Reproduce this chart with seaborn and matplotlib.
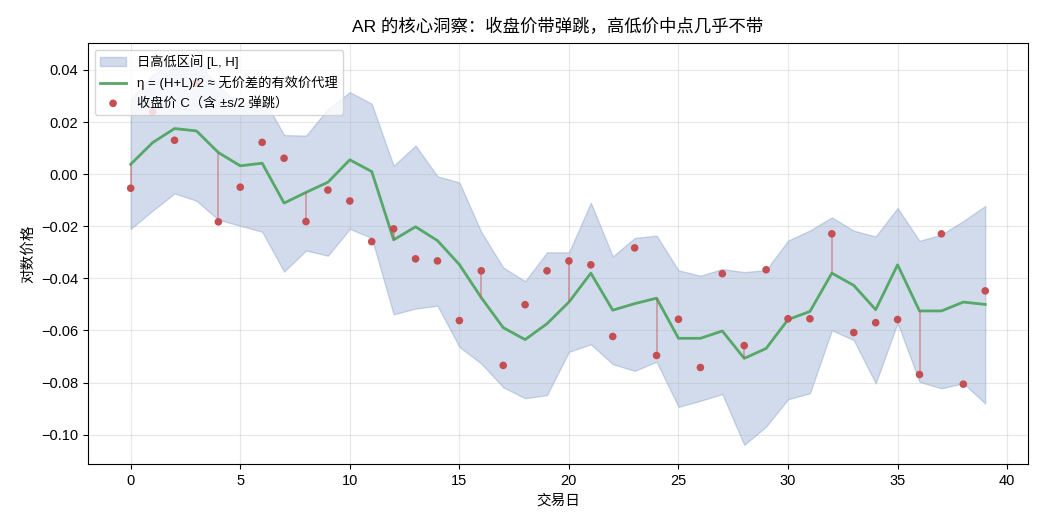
import matplotlib
matplotlib.use("Agg")
import matplotlib.pyplot as plt
import numpy as np
import pandas as pd
import seaborn as sns

# ================ Data ================
days = list(range(40))

high = [0.0286, 0.0382, 0.0424, 0.0430, 0.0341, 0.0262, 0.0300, 0.0150, 0.0148, 0.0250,
        0.0315, 0.0270, 0.0032, 0.0110, -0.0008, -0.0032, -0.0222, -0.0358, -0.0411, -0.0300,
        -0.0300, -0.0110, -0.0316, -0.0245, -0.0236, -0.0369, -0.0390, -0.0364, -0.0376, -0.0368,
        -0.0255, -0.0216, -0.0166, -0.0217, -0.0239, -0.0130, -0.0256, -0.0232, -0.0180, -0.0122]

low = [-0.0210, -0.0140, -0.0074, -0.0102, -0.0175, -0.0198, -0.0221, -0.0374, -0.0293, -0.0313,
       -0.0210, -0.0245, -0.0538, -0.0516, -0.0505, -0.0663, -0.0727, -0.0818, -0.0860, -0.0848,
       -0.0682, -0.0653, -0.0729, -0.0755, -0.0720, -0.0893, -0.0870, -0.0844, -0.1039, -0.0969,
       -0.0864, -0.0841, -0.0599, -0.0637, -0.0803, -0.0571, -0.0797, -0.0822, -0.0803, -0.0880]

eta = [0.0038, 0.0121, 0.0175, 0.0166, 0.0083, 0.0032, 0.0042, -0.0111, -0.0070, -0.0031,
       0.0055, 0.0010, -0.0252, -0.0202, -0.0255, -0.0347, -0.0474, -0.0589, -0.0635, -0.0574,
       -0.0491, -0.0380, -0.0522, -0.0497, -0.0476, -0.0630, -0.0630, -0.0602, -0.0707, -0.0669,
       -0.0558, -0.0527, -0.0380, -0.0427, -0.0520, -0.0348, -0.0525, -0.0525, -0.0491, -0.0500]

close = [-0.0054, 0.0239, 0.0130, 0.0350, -0.0183, -0.0050, 0.0122, 0.0061, -0.0182, -0.0061,
         -0.0103, -0.0259, -0.0210, -0.0325, -0.0333, -0.0562, -0.0371, -0.0734, -0.0501, -0.0371,
         -0.0333, -0.0348, -0.0623, -0.0283, -0.0696, -0.0557, -0.0742, -0.0382, -0.0658, -0.0367,
         -0.0555, -0.0555, -0.0229, -0.0608, -0.0570, -0.0558, -0.0769, -0.0229, -0.0806, -0.0448]

# days where the close-vs-eta gap is drawn
gap_days = [0, 4, 8, 12, 16, 20, 24, 28, 32, 36]

df = pd.DataFrame({"day": days, "high": high, "low": low, "eta": eta, "close": close})

# ================ Style ================
pal = sns.color_palette("deep")
plt.rcParams["font.family"] = ["Liberation Sans", "Noto Sans CJK SC", "DejaVu Sans"]
plt.rcParams["axes.unicode_minus"] = True

fig, ax = plt.subplots(figsize=(10.45, 5.28), dpi=100)

ax.fill_between(df["day"], df["low"], df["high"], color=pal[0], alpha=0.25,
                linewidth=1, label="日高低区间 [L, H]")
sns.lineplot(data=df, x="day", y="eta", ax=ax, color=pal[2], linewidth=2,
             label="η = (H+L)/2 ≈ 无价差的有效价代理")

gaps = df[df["day"].isin(gap_days)]
ax.vlines(gaps["day"], gaps["eta"], gaps["close"], color=pal[3], alpha=0.45, linewidth=1.3)

sns.scatterplot(data=df, x="day", y="close", ax=ax, color=pal[3], s=30,
                edgecolor="none", zorder=3, label="收盘价 C（含 ±s/2 弹跳）")

ax.grid(True, alpha=0.3)
ax.tick_params(labelsize=10.5)
ax.set_title("AR 的核心洞察：收盘价带弹跳，高低价中点几乎不带", fontsize=12.5, pad=8)
ax.set_xlabel("交易日", fontsize=10.5)
ax.set_ylabel("对数价格", fontsize=10.5)
ax.legend(loc="upper left", fontsize=9.5, framealpha=0.8)

fig.subplots_adjust(left=0.0842, right=0.9837, top=0.9186, bottom=0.1212)
plt.savefig("out.png", dpi=100)
